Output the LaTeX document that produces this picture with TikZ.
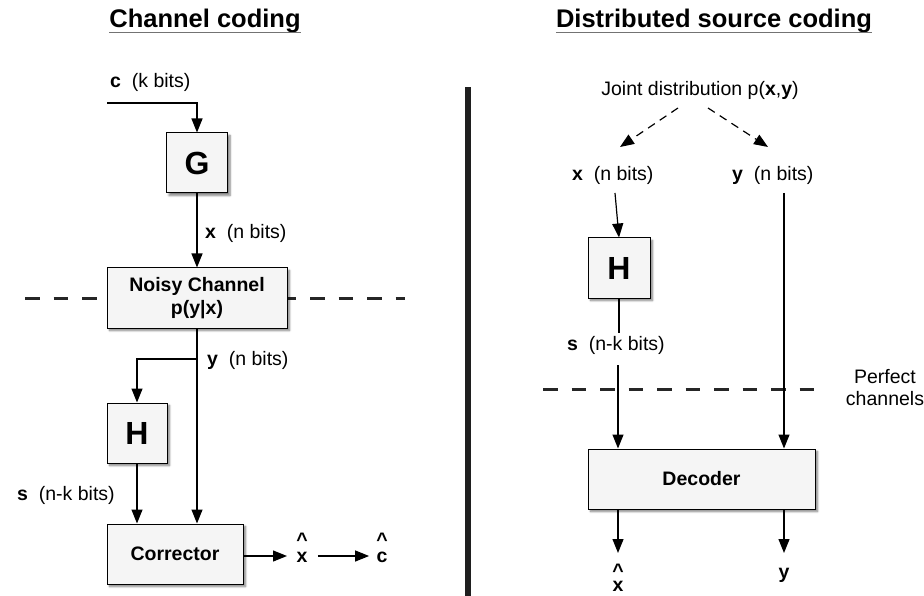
\documentclass[tikz,border=0pt]{standalone}
\usepackage{fontspec}
\setmainfont{Liberation Sans}
\usetikzlibrary{arrows.meta,shadows.blur,calc}

\begin{document}
\begin{tikzpicture}[x=1pt,y=-1pt,
  lbl/.style={font=\fontsize{19.5}{22}\selectfont, inner sep=0pt},
  blk/.style={draw=black, line width=1pt, fill=white!96!black,
    blur shadow={shadow xshift=2.5pt, shadow yshift=-2.5pt, shadow blur steps=6, shadow opacity=50},
    inner sep=0pt, align=center, font=\fontsize{19.5}{23}\selectfont\bfseries},
  bigblk/.style={blk, font=\fontsize{32}{34}\selectfont\bfseries},
  arr/.style={line width=1.2pt, -{Triangle[length=14pt,width=11pt]}},
  plain/.style={line width=1.2pt},
  dasharr/.style={arr, dash pattern=on 8pt off 6pt},
  divider/.style={draw=black!85, line width=3pt, dash pattern=on 14.5pt off 14pt},
  title/.style={font=\fontsize{25.5}{28}\selectfont\bfseries, inner sep=0pt, anchor=base},
  uline/.style={draw=black!55, line width=1.8pt},
  hatvar/.style={inner sep=0pt, align=center, font=\fontsize{19.5}{#1}\selectfont\bfseries},
  hatvar/.default=16,
]
\useasboundingbox (0,0) rectangle (924,596);

% ---------- titles ----------
\node[title] (t1) at (205,28) {Channel coding};
\draw[uline] ($(t1.base west)+(0,4.5)$) -- ($(t1.base east)+(0,4.5)$);
\node[title] (t2) at (714,28) {Distributed source coding};
\draw[uline] ($(t2.base west)+(0,4.5)$) -- ($(t2.base east)+(0,4.5)$);

% ---------- separator ----------
\fill[black!88] (465,87) rectangle (471,596);

% ---------- channel coding ----------
\coordinate (dl1) at (25,298);
\coordinate (dl2) at (405,298);
\draw[divider] (dl1) -- (dl2);

\node[lbl, anchor=west] (cl) at (110,82) {\textbf{c}\ \ (k bits)};
\coordinate (cin) at (107,103);
\node[bigblk, minimum width=61pt, minimum height=60pt] (g) at (197,163) {G};
\draw[arr] (cin) -| (g.north);

\node[blk, minimum width=180pt, minimum height=60pt] (nc) at (197,298) {Noisy Channel\\p(y|x)};
\draw[arr] (g.south) -- (nc.north);
\node[lbl, anchor=west] (xl1) at (205,233) {\textbf{x}\ \ (n bits)};

\coordinate (ysplit) at (197,359);
\node[lbl, anchor=west] (yl1) at (207,360) {\textbf{y}\ \ (n bits)};
\node[bigblk, minimum width=60pt, minimum height=60pt] (h1) at (137,433) {H};
\node[blk, minimum width=136pt, minimum height=60pt] (corr) at (175,554) {Corrector};
\draw[arr] (nc.south) -- (nc.south |- corr.north);
\draw[arr] (ysplit) -| (h1.north);
\draw[arr] (h1.south) -- (h1.south |- corr.north);
\node[lbl, anchor=west] (sl1) at (17,495) {\textbf{s}\ \ (n-k bits)};

% estimated x and c: caret stacked over the letter
\node[hatvar] (xh1) at (302,548) {\textasciicircum\\x};
\node[hatvar] (ch1) at (382,548) {\textasciicircum\\c};
\coordinate (xh1l) at (296,556);
\draw[arr, shorten >=9pt] (corr.east |- xh1l) -- (xh1l);
\draw[arr, shorten <=10pt, shorten >=7pt] (xh1.east |- xh1l) -- (ch1.west |- xh1l);

% ---------- distributed source coding ----------
\node[lbl] (joint) at (700,90) {Joint distribution p(\textbf{x},\textbf{y})};
\coordinate (ja) at (678,108);
\coordinate (jb) at (708,108);
\coordinate (xa) at (620,147);
\coordinate (yb) at (768,147);
\draw[dasharr] (ja) -- (xa);
\draw[dasharr] (jb) -- (yb);

\node[lbl, anchor=west] (xl2) at (572,175) {\textbf{x}\ \ (n bits)};
\node[lbl, anchor=west] (yl2) at (732,175) {\textbf{y}\ \ (n bits)};

\coordinate (xs) at (615,193);
\node[bigblk, minimum width=62pt, minimum height=60pt] (h2) at (619,268) {H};
\draw[arr] (xs) -- (h2.north);
\coordinate (sa) at (619,333);
\draw[plain] (h2.south) -- (sa);
\node[lbl, anchor=west] (sl2) at (567,345) {\textbf{s}\ \ (n-k bits)};

\coordinate (dl3) at (543,389);
\coordinate (dl4) at (825,389);
\draw[divider] (dl3) -- (dl4);
\node[lbl, align=center, font=\fontsize{19.5}{22}\selectfont] (perf) at (885,388) {Perfect\\channels};

\node[blk, minimum width=227pt, minimum height=60pt] (dec) at (701.5,479) {Decoder};
\coordinate (sb) at (618,365);
\coordinate (ys) at (784,193);
\draw[arr] (sb) -- (sb |- dec.north);
\draw[arr] (ys) -- (ys |- dec.north);

\coordinate (xo) at (618,553);
\coordinate (yo) at (784,553);
\draw[arr] (dec.south -| xo) -- (xo);
\draw[arr] (dec.south -| yo) -- (yo);

\node[hatvar=14] (xh2) at (618,578) {\textasciicircum\\x};
\node[lbl, font=\fontsize{19.5}{22}\selectfont\bfseries] (yh2) at (784,575) {y};
\end{tikzpicture}
\end{document}
